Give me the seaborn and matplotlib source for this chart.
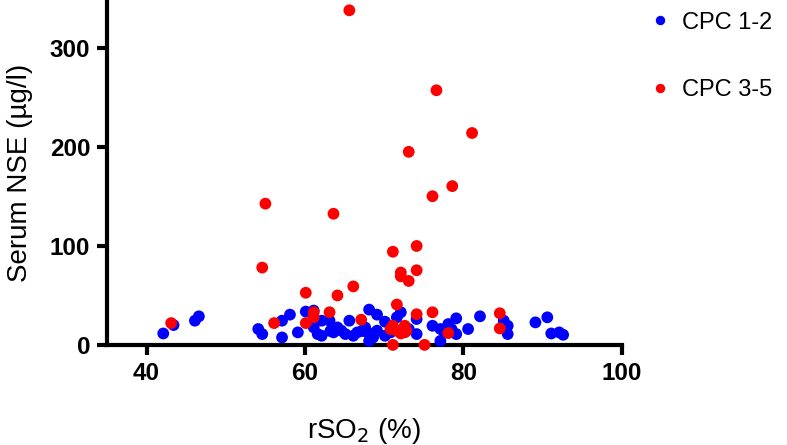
import pandas as pd
import numpy as np
import matplotlib
matplotlib.use("Agg")
import matplotlib.pyplot as plt
import seaborn as sns

# CPC 1-2 (good outcome)
cpc12_x = [42.1, 43.4, 46.1, 46.6, 54.1, 54.6, 57.1, 57.1, 58.1, 59.1, 60.1, 61.1, 61.1, 61.6,
           62.1, 62.1, 63.1, 63.6, 64.6, 65.1, 65.6, 66.1, 66.6, 67.6, 68.1, 68.1, 68.6, 69.1,
           69.1, 70.1, 70.1, 71.6, 72.1, 73.1, 74.1, 74.1, 76.1, 77.1, 77.1, 78.1, 79.1, 79.1,
           80.6, 82.1, 85.1, 85.6, 85.6, 89.1, 90.6, 91.1, 92.1, 92.6, 64.1, 63.2, 67.2, 67.9,
           70.8, 77.6, 78.5]
cpc12_y = [11.5, 20.0, 24.4, 28.8, 16.0, 10.9, 7.5, 24.4, 30.5, 12.6, 33.6, 34.6, 17.6, 10.9,
           9.2, 24.4, 24.4, 12.6, 14.3, 10.9, 24.4, 9.2, 12.6, 17.6, 35.6, 4.0, 7.5, 30.5,
           14.3, 23.4, 9.2, 27.8, 32.9, 16.0, 26.1, 10.9, 19.3, 4.0, 16.0, 21.0, 26.8, 10.9,
           16.0, 28.8, 24.4, 19.3, 10.9, 22.7, 27.8, 11.5, 12.6, 10.2, 17.6, 14.0, 14.0, 12.6,
           12.6, 12.6, 16.0]

# CPC 3-5 (poor outcome)
cpc35_x = [65.6, 76.6, 81.1, 73.1, 78.6, 76.1, 55.0, 63.6, 71.1, 74.1, 54.6, 72.1, 74.1, 72.1,
           73.1, 66.1, 60.1, 64.1, 71.6, 61.1, 63.1, 76.1, 84.6, 74.1, 61.1, 67.1, 43.1, 56.1,
           60.1, 71.1, 72.6, 71.6, 72.1, 72.6, 78.1, 84.6, 71.1, 75.1, 70.8, 72.8]
cpc35_y = [337.6, 256.9, 213.8, 194.8, 160.2, 150.0, 142.5, 132.3, 94.0, 99.8, 78.0, 73.0, 75.3, 69.2,
           64.5, 59.0, 52.6, 49.9, 40.7, 32.9, 32.9, 32.9, 31.9, 30.9, 27.8, 25.4, 22.0, 22.0,
           22.0, 19.3, 19.3, 14.3, 11.5, 12.6, 11.9, 16.6, 0.0, 0.0, 16.0, 14.0]

df = pd.DataFrame({
    "rso2": cpc12_x + cpc35_x,
    "nse": cpc12_y + cpc35_y,
    "group": ["CPC 1-2"] * len(cpc12_x) + ["CPC 3-5"] * len(cpc35_x),
})

sns.set_style("ticks", {"axes.edgecolor": "black", "xtick.color": "black",
                        "ytick.color": "black", "text.color": "black",
                        "axes.labelcolor": "black"})
plt.rcParams["font.family"] = ["Liberation Sans", "DejaVu Sans"]

fig = plt.figure(figsize=(7.87, 4.45), dpi=100)
ax = fig.add_axes([0.136, 0.225, 0.654, 0.775])

sns.scatterplot(data=df, x="rso2", y="nse", hue="group",
                palette={"CPC 1-2": "#0000FF", "CPC 3-5": "#FF0000"},
                s=72, linewidth=0, ax=ax, clip_on=False, zorder=3)

ax.set_xlim(35, 100)
ax.set_ylim(0, 348)
ax.set_xticks([40, 60, 80, 100])
ax.set_yticks([0, 100, 200, 300])
for side in ["top", "right"]:
    ax.spines[side].set_visible(False)
for side in ["left", "bottom"]:
    ax.spines[side].set_linewidth(3)
ax.tick_params(width=3, length=7, labelsize=17.5, pad=5)
for lab in ax.get_xticklabels() + ax.get_yticklabels():
    lab.set_fontweight("bold")

ax.set_xlabel("rSO$_2$ (%)", fontsize=20, labelpad=23)
ax.set_ylabel("Serum NSE (µg/l)", fontsize=20, labelpad=12)

ax.legend(loc="upper left", bbox_to_anchor=(1.029, 0.994), frameon=False,
          fontsize=17, markerscale=0.8, labelspacing=1.92, handletextpad=0.33,
          handlelength=1.2, borderaxespad=0)

fig.savefig("out.png", dpi=100)
